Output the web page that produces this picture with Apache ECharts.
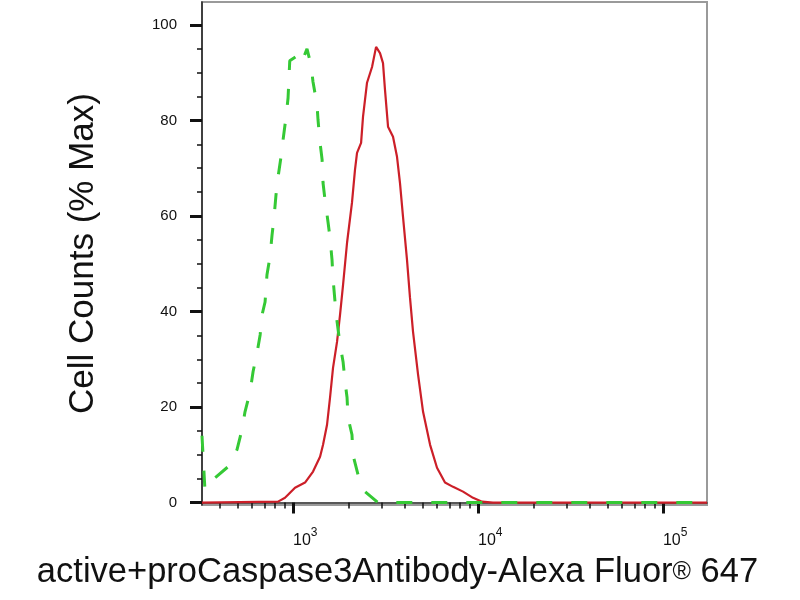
<!DOCTYPE html>
<html>
<head>
<meta charset="utf-8">
<title>Cell Counts histogram</title>
<script src="https://cdn.jsdelivr.net/npm/echarts@6/dist/echarts.min.js"></script>
<style>
  html, body { margin: 0; padding: 0; background: #fff; }
  #chart { width: 800px; height: 600px; }
</style>
</head>
<body>
<div id="chart"></div>
<script>
// axis range (fluorescence, log scale) and count range
var xMin = 322;
var xMax = 173000;
var yMin = -0.5;
var yMax = 104.8;

// tick positions
var xMajorTicks = [1000, 10000, 100000];
var xMinorTicks = [400, 500, 600, 700, 800, 900,
  2000, 3000, 4000, 5000, 6000, 7000, 8000, 9000,
  20000, 30000, 40000, 50000, 60000, 70000, 80000, 90000];
var yMajorTicks = [0, 20, 40, 60, 80, 100];
var yMinorTicks = [5, 10, 15, 25, 30, 35, 45, 50, 55, 65, 70, 75, 85, 90, 95];

// isotype control (green dashed)
var isoX = [322, 334, 356, 379, 445, 498, 530, 550, 586, 608, 639, 664, 680, 706, 723, 751,
  770, 789, 809, 829, 861, 883, 915, 940, 960, 1050, 1110, 1190, 1251, 1282, 1348, 1365,
  1400, 1436, 1453, 1489, 1545, 1585, 1625, 1644, 1687, 1730, 1795, 1864, 1911, 1959,
  1983, 2083, 2109, 2244, 2449, 2877, 173000];
var isoY = [14, 2.7, 3.8, 5.2, 7.5, 11.1, 15.3, 19, 23.2, 27.4, 31.4, 35.1, 39.3, 42, 47.7, 51.5,
  56, 59.6, 64.4, 68, 72.4, 75.9, 80.5, 84.7, 92.5, 93.5, 92, 95, 91.6, 88.1, 83.3, 80.1,
  75.3, 71.8, 66.9, 63.4, 58.8, 55.4, 50.8, 47.1, 42, 37.9, 33.1, 29.5, 25.3, 22,
  17.8, 14.2, 10, 5.9, 2.3, 0, 0];

// stained sample (red solid)
var stainX = [322, 830, 905, 1025, 1161, 1283, 1400, 1453, 1527, 1585, 1645, 1730, 1795, 1864,
  1959, 2083, 2163, 2218, 2333, 2390, 2512, 2674, 2812, 2953, 3065, 3142, 3263, 3472,
  3649, 3787, 3932, 4132, 4289, 4453, 4742, 5047, 5508, 6003, 6631, 7330, 8300, 9400,
  10520, 12050, 173000];
var stainY = [0, 0.2, 1.0, 3.1, 4.2, 6.5, 9.6, 12.1, 16.3, 22, 28.2, 33.7, 39.3, 45.6,
  54.4, 62.8, 69.7, 73.2, 75.3, 80.8, 87.9, 91.2, 95.4, 94.1, 92, 86.4, 78.7, 76.6,
  72.4, 66.9, 59.8, 50.8, 42.9, 35.8, 26.8, 19, 12.1, 7.3, 4.2, 3.3, 2.3, 1.0,
  0.2, 0, 0];

function pairs(xs, ys) {
  return xs.map(function (x, i) { return [x, ys[i]]; });
}

var font = "'Liberation Sans', Arial, sans-serif";

var myChart = echarts.init(document.getElementById("chart"));

myChart.setOption({
  backgroundColor: "#fff",
  animation: false,
  grid: {
    left: 202, right: 93, top: 2, bottom: 95,
    show: true, borderColor: "#9a9a9a", borderWidth: 2,
    backgroundColor: "transparent"
  },
  xAxis: [
    {
      type: "log", logBase: 10, min: xMin, max: xMax, position: "bottom",
      axisLine: { lineStyle: { color: "#222", width: 1.5 } },
      axisTick: { customValues: xMajorTicks, length: 11, lineStyle: { color: "#111", width: 3 } },
      axisLabel: {
        customValues: xMajorTicks, align: "left", margin: 25,
        formatter: function (v) {
          return "{b|10}{s|" + Math.round(Math.log10(v)) + "}";
        },
        // equal-height boxes: base digits sit low, exponent sits high
        rich: {
          b: { fontFamily: font, fontSize: 16, color: "#111", lineHeight: 16, padding: [6, 0, 0, 0] },
          s: { fontFamily: font, fontSize: 12, color: "#111", lineHeight: 12, padding: [0, 0, 10, 0] }
        }
      },
      splitLine: { show: false },
      name: "{t|active+proCaspase3Antibody-Alexa Fluor}{r|®}{t| 647}",
      nameLocation: "middle", nameGap: 50,
      nameTextStyle: {
        padding: [0, 114, 0, 0],
        rich: {
          t: { fontFamily: font, fontSize: 34.5, color: "#111", lineHeight: 35 },
          r: { fontFamily: font, fontSize: 25, color: "#111", verticalAlign: "middle" }
        }
      }
    },
    {
      type: "log", logBase: 10, min: xMin, max: xMax, position: "bottom",
      axisLine: { show: false },
      axisTick: { customValues: xMinorTicks, length: 6, lineStyle: { color: "#111", width: 1.5 } },
      axisLabel: { show: false },
      splitLine: { show: false }
    }
  ],
  yAxis: [
    {
      type: "value", min: yMin, max: yMax, position: "left",
      axisLine: { show: true, lineStyle: { color: "#222", width: 1.5 } },
      axisTick: { show: true, customValues: yMajorTicks, length: 12, lineStyle: { color: "#111", width: 3 } },
      axisLabel: { customValues: yMajorTicks, margin: 25, fontFamily: font, fontSize: 15, color: "#111" },
      splitLine: { show: false },
      name: "Cell Counts (% Max)",
      nameLocation: "middle", nameGap: 101,
      nameTextStyle: { fontFamily: font, fontSize: 35, color: "#111", lineHeight: 35 }
    },
    {
      type: "value", min: yMin, max: yMax, position: "left",
      axisLine: { show: false },
      axisTick: { show: true, customValues: yMinorTicks, length: 5, lineStyle: { color: "#111", width: 1.5 } },
      axisLabel: { show: false },
      splitLine: { show: false }
    }
  ],
  series: [
    {
      name: "stained", type: "line", xAxisIndex: 0, yAxisIndex: 0,
      data: pairs(stainX, stainY), showSymbol: false,
      lineStyle: { color: "#cc1f28", width: 2.2 }, z: 3
    },
    {
      name: "isotype", type: "line", xAxisIndex: 0, yAxisIndex: 0,
      data: pairs(isoX, isoY), showSymbol: false,
      lineStyle: { color: "#35c935", width: 3, type: [16, 19] }, z: 4
    }
  ]
});
</script>
</body>
</html>
